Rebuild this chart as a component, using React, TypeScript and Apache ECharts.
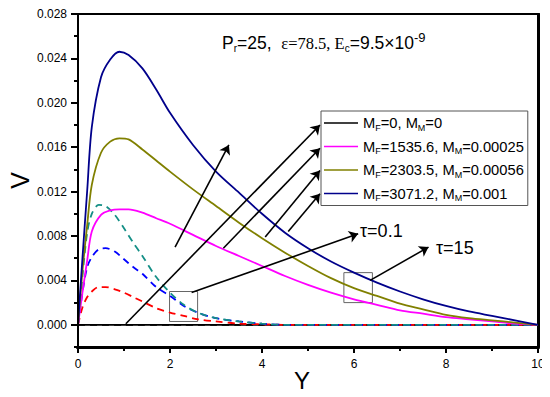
import React, { useEffect, useRef } from "react";
import * as echarts from "echarts";

// ---- data ----
const solidX = [0, 0.1, 0.2, 0.3, 0.5, 0.7, 0.9, 1.1, 1.4, 1.7, 2.0, 2.5, 3.0, 3.5, 4.0, 4.5, 5.0, 5.5, 6.0, 6.5, 7.0, 7.5, 8.0, 8.5, 9.0, 9.5, 10];
const vNavy = [0, 0.0062, 0.0121, 0.0178, 0.0223, 0.0239, 0.0246, 0.0243, 0.0231, 0.0212, 0.0191, 0.0162, 0.0138, 0.0119, 0.0100, 0.0083, 0.0069, 0.0057, 0.0047, 0.0038, 0.0030, 0.0023, 0.0017, 0.0012, 0.0008, 0.0004, 0];
const vOlive = [0, 0.0050, 0.0090, 0.0126, 0.0155, 0.0165, 0.0168, 0.0167, 0.0158, 0.0148, 0.0138, 0.0122, 0.0107, 0.0092, 0.0078, 0.0065, 0.0053, 0.0042, 0.0033, 0.0026, 0.0019, 0.0014, 0.0009, 0.0006, 0.0004, 0.0002, 0];
const vMagenta = [0, 0.0030, 0.0058, 0.0084, 0.0099, 0.0103, 0.0104, 0.0104, 0.0101, 0.0096, 0.0091, 0.0081, 0.0071, 0.0062, 0.0053, 0.0044, 0.0036, 0.0029, 0.0023, 0.0018, 0.0013, 0.0010, 0.0007, 0.0005, 0.0003, 0.0001, 0];
const vBlackSolid = solidX.map(() => 0);

const dashX = [0, 0.1, 0.2, 0.3, 0.45, 0.6, 0.8, 1.0, 1.2, 1.4, 1.7, 2.0, 2.3, 2.6, 3.0, 3.5, 4.0, 4.5, 5, 6, 7, 8, 9, 10];
const vTealDash = [0, 0.0045, 0.0083, 0.0100, 0.0108, 0.0107, 0.0099, 0.0087, 0.0074, 0.0062, 0.0043, 0.0029, 0.0018, 0.0011, 0.0006, 0.0003, 0.0001, 0, 0, 0, 0, 0, 0, 0];
const vBlueDash = [0, 0.0030, 0.0052, 0.0061, 0.0068, 0.0069, 0.0066, 0.0059, 0.0052, 0.0046, 0.0034, 0.0026, 0.0017, 0.0011, 0.0006, 0.0003, 0.0001, 0, 0, 0, 0, 0, 0, 0];
const vRedDash = [0, 0.0016, 0.0025, 0.0030, 0.0034, 0.0034, 0.0032, 0.0029, 0.0025, 0.0021, 0.0015, 0.0011, 0.0008, 0.0005, 0.0003, 0.0001, 0.00005, 0, 0, 0, 0, 0, 0, 0];
const vBlackDash = dashX.map(() => 0);

const legendNames = ["MF0", "MF1535", "MF2303", "MF3071"];
const legendLabels: Record<string, string> = {
  MF0: "{m|M}{s|F}{m|=0, M}{s|M}{m|=0}",
  MF1535: "{m|M}{s|F}{m|=1535.6, M}{s|M}{m|=0.00025}",
  MF2303: "{m|M}{s|F}{m|=2303.5, M}{s|M}{m|=0.00056}",
  MF3071: "{m|M}{s|F}{m|=3071.2, M}{s|M}{m|=0.001}",
};

const X_MIN = 0;
const X_MAX = 10;
const Y_MIN = -0.002;
const Y_MAX = 0.028;
const xMajorTicks = [0, 2, 4, 6, 8, 10];
const xMinorTicks = [1, 3, 5, 7, 9];
const yMajorTicks = [0, 0.004, 0.008, 0.012, 0.016, 0.02, 0.024, 0.028];
const yMinorTicks = [-0.002, 0.002, 0.006, 0.01, 0.014, 0.018, 0.022, 0.026];

// annotation arrows (data coordinates): [x1, y1, x2, y2]
const arrows = [
  [2.11, 0.0070, 3.28, 0.0162],
  [1.04, 0.0001, 5.26, 0.0180],
  [3.16, 0.0069, 5.26, 0.0159],
  [4.07, 0.0079, 5.26, 0.0139],
  [4.57, 0.0084, 5.26, 0.0118],
  [2.47, 0.0029, 6.09, 0.0082],
  [6.35, 0.0040, 7.62, 0.0070],
];
// zoom boxes (data coordinates): [x1, y1, x2, y2]
const boxes = [
  [1.99, 0.0003, 2.60, 0.0030],
  [5.78, 0.0020, 6.40, 0.0047],
];

const SANS = "Liberation Sans, Arial, sans-serif";
const SERIF = "Liberation Serif, Times New Roman, serif";

const pair = (xs: number[], ys: number[]) => xs.map((x, i) => [x, ys[i]]);

export default function App() {
  const ref = useRef<HTMLDivElement>(null);
  useEffect(() => {
    if (!ref.current) return;
    const chart = echarts.init(ref.current, null, { renderer: "svg" });
    const solid = (name: string, color: string, ys: number[], extra: any = {}) => ({
      type: "line",
      name,
      data: pair(solidX, ys),
      symbol: "none",
      smooth: 0.3,
      lineStyle: { color, width: 1.8 },
      itemStyle: { color },
      emphasis: { disabled: true },
      ...extra,
    });
    const dashed = (name: string, color: string, ys: number[]) => ({
      type: "line",
      name,
      data: pair(dashX, ys),
      symbol: "none",
      smooth: 0.3,
      lineStyle: { color, width: 1.8, type: [7, 5] },
      itemStyle: { color },
      emphasis: { disabled: true },
    });
    chart.setOption({
      animation: false,
      grid: { left: 78, right: 12, top: 14, bottom: 50, outerBoundsMode: "none", containLabel: false },
      xAxis: {
        type: "value",
        min: X_MIN,
        max: X_MAX,
        interval: 2,
        axisLine: { show: false, onZero: false },
        axisTick: { show: false },
        splitLine: { show: false },
        axisLabel: { color: "#000", fontFamily: SANS, fontSize: 12, margin: 11 },
        name: "Y",
        nameLocation: "middle",
        nameGap: 21,
        nameMoveOverlap: false,
        nameTextStyle: { color: "#000", fontFamily: SANS, fontSize: 24, padding: [0, 12, 0, 0] },
      },
      yAxis: {
        type: "value",
        min: Y_MIN,
        max: Y_MAX,
        axisLine: { show: false, onZero: false },
        axisTick: { show: false },
        splitLine: { show: false },
        axisLabel: {
          color: "#000",
          fontFamily: SANS,
          fontSize: 12,
          margin: 11,
          customValues: yMajorTicks,
          formatter: (v: number) => v.toFixed(3),
        },
        name: "V",
        nameLocation: "middle",
        nameGap: 46,
        nameMoveOverlap: false,
        nameRotate: 90,
        nameTextStyle: { color: "#000", fontFamily: SANS, fontSize: 25 },
      },
      legend: {
        data: legendNames,
        orient: "vertical",
        left: 321,
        top: 111,
        padding: [3, 4, 3, 3],
        itemWidth: 34,
        itemHeight: 12,
        itemGap: 5.5,
        icon: "path://M0,0L34,0L34,1.6L0,1.6Z",
        borderColor: "#555",
        borderWidth: 1,
        backgroundColor: "#fff",
        selectedMode: false,
        formatter: (name: string) => legendLabels[name],
        textStyle: {
          color: "#000",
          rich: {
            m: { fontFamily: SANS, fontSize: 14.7, lineHeight: 17, color: "#000" },
            s: { fontFamily: SANS, fontSize: 9, lineHeight: 9, padding: [9, 0, 0, 0], color: "#000" },
          },
        },
      },
      series: [
        solid("MF0", "#000000", vBlackSolid, {
          z: 1,
          markLine: {
            silent: true,
            symbol: ["none", "arrow"],
            symbolSize: 9,
            label: { show: false },
            lineStyle: { color: "#000", width: 1.6, type: "solid" },
            emphasis: { disabled: true },
            data: arrows.map((a) => [{ coord: [a[0], a[1]] }, { coord: [a[2], a[3]] }]),
          },
          markArea: {
            silent: true,
            itemStyle: { color: "transparent", borderColor: "#666", borderWidth: 1 },
            label: { show: false },
            emphasis: { disabled: true },
            data: boxes.map((b) => [{ coord: [b[0], b[1]] }, { coord: [b[2], b[3]] }]),
          },
        }),
        dashed("blackDash", "#000000", vBlackDash),
        dashed("redDash", "#ff0000", vRedDash),
        dashed("blueDash", "#0000ff", vBlueDash),
        dashed("tealDash", "#148f86", vTealDash),
        solid("MF1535", "#ff00ff", vMagenta),
        solid("MF2303", "#808000", vOlive),
        solid("MF3071", "#00008b", vNavy),
        {
          id: "frame",
          type: "line",
          name: "frame",
          data: [[X_MIN, Y_MIN]],
          symbol: "none",
          clip: false,
          silent: true,
          z: 6,
          lineStyle: { width: 0 },
          markLine: {
            silent: true,
            symbol: ["none", "none"],
            label: { show: false },
            lineStyle: { color: "#000", width: 2, type: "solid" },
            emphasis: { disabled: true },
            data: [],
          },
          markArea: {
            silent: true,
            itemStyle: { color: "transparent", borderColor: "#000", borderWidth: 2 },
            label: { show: false },
            emphasis: { disabled: true },
            data: [[{ coord: [X_MIN, Y_MIN] }, { coord: [X_MAX, Y_MAX] }]],
          },
        },
      ],
      graphic: [
        {
          type: "text",
          x: 222,
          y: 43,
          style: {
            text: "{p|P}{s|r}{p|=25,  }{e|ε=78.5, E}{s|c}{q|=9.5×10}{u|-9}",
            verticalAlign: "middle",
            rich: {
              p: { fontFamily: SANS, fontSize: 17.5, lineHeight: 20, fill: "#000" },
              q: { fontFamily: SANS, fontSize: 17.5, lineHeight: 20, fill: "#000" },
              e: { fontFamily: SERIF, fontSize: 16.5, lineHeight: 20, fill: "#000" },
              s: { fontFamily: SANS, fontSize: 10, lineHeight: 10, padding: [11, 0, 0, 0], fill: "#000" },
              u: { fontFamily: SANS, fontSize: 13, lineHeight: 13, padding: [0, 0, 12, 0], fill: "#000" },
            },
          },
        },
        {
          type: "text",
          x: 360,
          y: 231,
          style: { text: "τ=0.1", fontFamily: SANS, fontSize: 18, fill: "#000", verticalAlign: "middle" },
        },
        {
          type: "text",
          x: 436,
          y: 248,
          style: { text: "τ=15", fontFamily: SANS, fontSize: 18, fill: "#000", verticalAlign: "middle" },
        },
      ],
    });

    // frame and ticks placed through the chart's own scales
    const px = (x: number, y: number) => chart.convertToPixel({ gridIndex: 0 }, [x, y]) as number[];
    const seg = (x1: number, y1: number, x2: number, y2: number) => [{ x: x1, y: y1 }, { x: x2, y: y2 }];
    const lines: any[] = [];
    const tl = px(X_MIN, Y_MAX);
    const br = px(X_MAX, Y_MIN);
    if (tl && br) {
      const l = tl[0] - 0.7;
      const t = tl[1] - 0.7;
      const r = br[0] + 0.7;
      const b = br[1] + 0.7;
      lines.push(seg(l - 1, t, r + 1, t));
      lines.push(seg(r, t, r, b));
      lines.push(seg(r + 1, b, l - 1, b));
      lines.push(seg(l, b, l, t));
      yMajorTicks.forEach((v) => {
        const p = px(X_MIN, v);
        lines.push(seg(p[0] - 7, p[1], p[0], p[1]));
      });
      yMinorTicks.forEach((v) => {
        const p = px(X_MIN, v);
        lines.push(seg(p[0] - 4, p[1], p[0], p[1]));
      });
      xMajorTicks.forEach((v) => {
        const p = px(v, Y_MIN);
        lines.push(seg(p[0], p[1], p[0], p[1] + 6));
      });
      xMinorTicks.forEach((v) => {
        const p = px(v, Y_MIN);
        lines.push(seg(p[0], p[1], p[0], p[1] + 4));
      });
      chart.setOption({ series: [{ id: "frame", markLine: { data: lines } }] });
    }
    return () => chart.dispose();
  }, []);
  return <div ref={ref} style={{ width: 550, height: 397, margin: -8 }} />;
}
